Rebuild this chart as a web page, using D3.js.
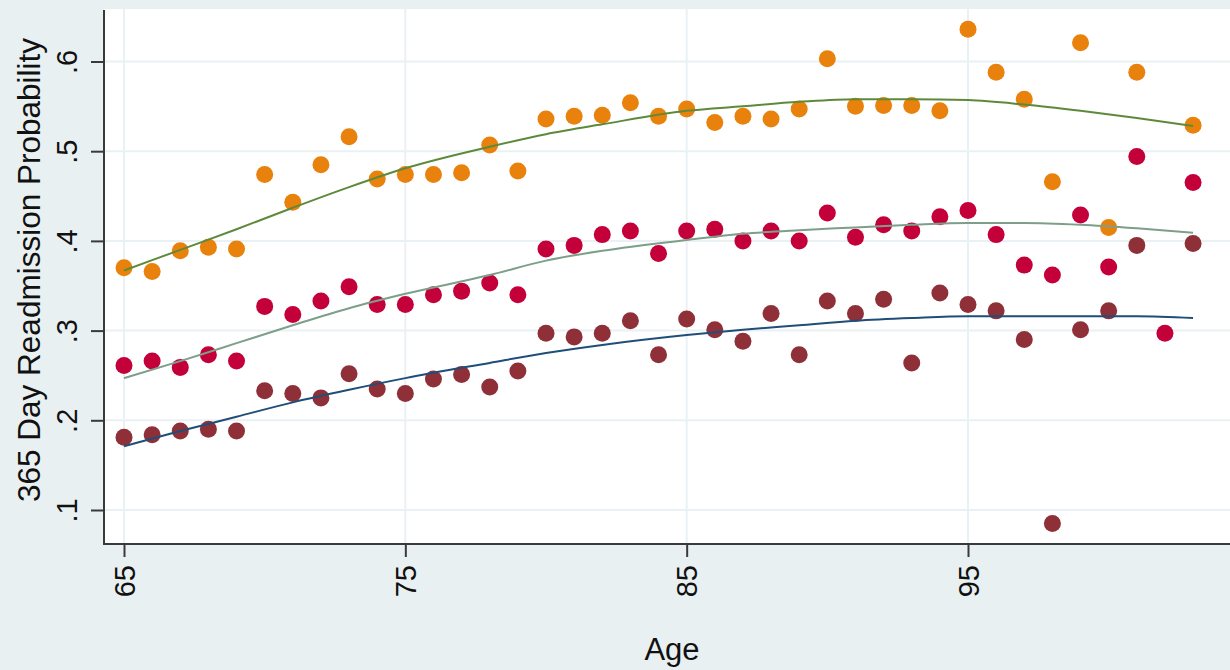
<!DOCTYPE html>
<html>
<head>
<meta charset="utf-8">
<script src="https://cdn.jsdelivr.net/npm/d3@7"></script>
<style>
  body { margin: 0; background: #e9f0f2; }
  svg { display: block; font-family: "Liberation Sans", Arial, sans-serif; }
</style>
</head>
<body>
<div class="chart"></div>
<script>
// ages on the x axis
const ages = [65, 66, 67, 68, 69, 70, 71, 72, 73, 74, 75, 76, 77, 78, 79, 80, 81, 82, 83, 84,
    85, 86, 87, 88, 89, 90, 91, 92, 93, 94, 95, 96, 97, 98, 99, 100, 101, 102, 103];

// scatter series (null = no point at that age)
const orangePts = [.370, .366, .389, .393, .391, .474, .443, .485, .516, .469, .474, .474, .476, .507, .478, .536, .539, .540, .554, .539,
    .547, .532, .539, .536, .547, .603, .550, .551, .551, .545, .636, .588, .558, .466, .621, .415, .588, null, .529];
const redPts = [.261, .266, .259, .273, .266, .327, .318, .333, .349, .329, .329, .340, .344, .353, .340, .391, .395, .407, .411, .386,
    .411, .413, .400, .411, .400, .431, .404, .418, .411, .427, .434, .407, .373, .362, .429, .371, .494, .297, .465];
const maroonPts = [.181, .184, .188, .190, .188, .233, .230, .225, .252, .235, .230, .246, .251, .237, .255, .297, .293, .297, .311, .273,
    .313, .301, .288, .319, .273, .333, .319, .335, .264, .342, .329, .322, .290, .085, .301, .322, .395, null, .397];

// fitted lines, read at these ages
const fitAges = [65, 67, 69, 71, 73, 75, 78, 80, 82, 85, 87, 89, 91, 93, 95, 97, 99, 101, 103];
const orangeFit = [.367, .390, .413, .437, .460, .481, .505, .519, .530, .545, .550, .555, .558, .558, .557, .552, .545, .537, .528];
const redFit = [.247, .266, .286, .306, .325, .341, .362, .378, .389, .401, .408, .412, .415, .418, .420, .420, .418, .414, .409];
const maroonFit = [.171, .188, .204, .220, .234, .247, .264, .275, .284, .295, .301, .306, .311, .314, .316, .316, .316, .316, .314];

// ticks
const xTicks = [65, 75, 85, 95];
const yTicks = [.1, .2, .3, .4, .5, .6];
const yTickLabels = [".1", ".2", ".3", ".4", ".5", ".6"];

const W = 1230, H = 670;
const plot = { left: 104, top: 9, right: 1230, bottom: 544 };

const svg = d3.select(".chart").append("svg")
    .attr("width", W)
    .attr("height", H);

svg.append("rect").attr("width", W).attr("height", H).attr("fill", "#e9f0f2");
svg.append("rect")
    .attr("x", plot.left).attr("y", plot.top)
    .attr("width", plot.right - plot.left).attr("height", plot.bottom - plot.top)
    .attr("fill", "#ffffff");

const x = d3.scaleLinear().domain([65, 95]).range([124, 968]);
const y = d3.scaleLinear().domain([.1, .6]).range([510, 61.5]);

// grid
svg.append("g").selectAll("line")
    .data(yTicks)
    .join("line")
    .attr("x1", plot.left).attr("x2", plot.right)
    .attr("y1", d => y(d)).attr("y2", d => y(d))
    .attr("stroke", "#eaf1f4").attr("stroke-width", 2);

svg.append("g").selectAll("line")
    .data(xTicks)
    .join("line")
    .attr("x1", d => x(d)).attr("x2", d => x(d))
    .attr("y1", plot.top).attr("y2", plot.bottom)
    .attr("stroke", "#eaf1f4").attr("stroke-width", 2);

// scatter points
const series = [
    { vals: maroonPts, color: "#8f3039" },
    { vals: redPts, color: "#c4003a" },
    { vals: orangePts, color: "#e8820c" }
];

series.forEach(s => {
    svg.append("g").selectAll("circle")
        .data(ages.map((a, i) => ({ age: a, v: s.vals[i] })).filter(d => d.v != null))
        .join("circle")
        .attr("cx", d => x(d.age))
        .attr("cy", d => y(d.v))
        .attr("r", 8.5)
        .attr("fill", s.color);
});

// fitted lines
const fits = [
    { vals: orangeFit, color: "#5d8a3a" },
    { vals: redFit, color: "#7d9f8a" },
    { vals: maroonFit, color: "#1f4e79" }
];

const line = d3.line()
    .x(d => x(d[0]))
    .y(d => y(d[1]))
    .curve(d3.curveMonotoneX);

fits.forEach(f => {
    svg.append("path")
        .datum(fitAges.map((a, i) => [a, f.vals[i]]))
        .attr("d", line)
        .attr("fill", "none")
        .attr("stroke", f.color)
        .attr("stroke-width", 2);
});

// axes
const yAxis = svg.append("g")
    .attr("transform", `translate(${plot.left},0)`)
    .call(d3.axisLeft(y).tickValues(yTicks).tickFormat((d, i) => yTickLabels[i]).tickSize(13).tickSizeOuter(0));

const xAxis = svg.append("g")
    .attr("transform", `translate(0,${plot.bottom})`)
    .call(d3.axisBottom(x).tickValues(xTicks).tickFormat(d3.format("d")).tickSize(13).tickSizeOuter(0));

[yAxis, xAxis].forEach(g => {
    g.select(".domain").remove();
    g.selectAll(".tick line").attr("stroke", "#3a3a3a").attr("stroke-width", 2);
    g.selectAll(".tick text")
        .attr("fill", "#111")
        .style("font-size", "29px")
        .style("font-family", "'Liberation Sans', Arial, sans-serif");
});

yAxis.selectAll(".tick text")
    .attr("x", null).attr("dy", null)
    .attr("text-anchor", "middle")
    .attr("transform", "translate(-27,0) rotate(-90)");

xAxis.selectAll(".tick text")
    .attr("y", null).attr("dy", "0.35em")
    .attr("text-anchor", "end")
    .attr("transform", "translate(0,21) rotate(-90)");

// axis lines
svg.append("line")
    .attr("x1", plot.left).attr("x2", plot.left)
    .attr("y1", plot.top + 1).attr("y2", plot.bottom + 1)
    .attr("stroke", "#3a3a3a").attr("stroke-width", 2);
svg.append("line")
    .attr("x1", plot.left - 1).attr("x2", plot.right)
    .attr("y1", plot.bottom).attr("y2", plot.bottom)
    .attr("stroke", "#3a3a3a").attr("stroke-width", 2);

// titles
svg.append("text")
    .attr("transform", "translate(40,270) rotate(-90)")
    .attr("text-anchor", "middle")
    .attr("fill", "#111")
    .style("font-size", "31.5px")
    .text("365 Day Readmission Probability");

svg.append("text")
    .attr("x", 672).attr("y", 660)
    .attr("text-anchor", "middle")
    .attr("fill", "#111")
    .style("font-size", "31px")
    .text("Age");
</script>
</body>
</html>
